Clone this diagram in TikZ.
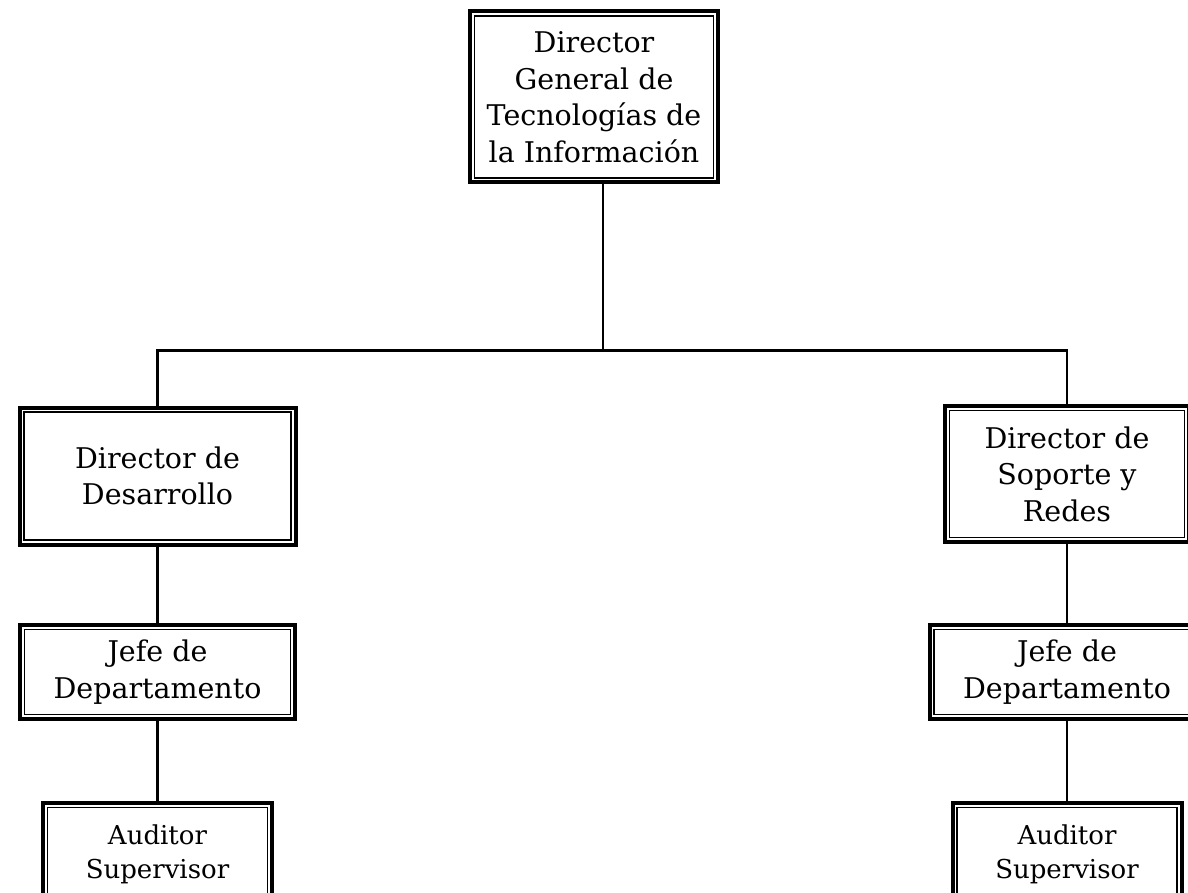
\documentclass[tikz,border=0pt]{standalone}
\usepackage{fontspec}
\setmainfont{DejaVu Serif}
\usepackage{tikz}
\usetikzlibrary{positioning}
\tikzset{%
  every cargo/.style={
    rectangle,
    draw,
    line width=4pt,
    inner sep=0pt,
    align=center,
    font=\fontsize{28.5}{36.5}\selectfont,
    path picture={
      \draw[line width=1.3pt]
        ([shift={(4.4pt,-4.4pt)}]path picture bounding box.north west) rectangle
        ([shift={(-4.4pt,4.4pt)}]path picture bounding box.south east);
    }
  },
  cargo auditor/.style={
    font=\fontsize{26}{34}\selectfont
  },
  conector/.style={
    line width=2.5pt
  },
}
\begin{document}
\begin{tikzpicture}[x=1pt, y=-1pt]

\useasboundingbox (0,0) rectangle (1188,893);

% Direccion general
\node [every cargo/.try, minimum width=248pt, minimum height=171pt] (general) at (594,97)
  {Director\\ General de\\ Tecnologías de\\ la Información};
\coordinate (hub) at (603,350.5);

% Direcciones de area
\node [every cargo/.try, minimum width=276pt, minimum height=137pt] (dir-Des) at (157.5,476)
  {Director de\\ Desarrollo};
\node [every cargo/.try, minimum width=244pt, minimum height=136pt] (dir-Sop) at (1067,474)
  {Director de\\ Soporte y\\ Redes};

% Jefes y auditores
\foreach \c/\x in {Des/157.5, Sop/1067}
{
  \node [every cargo/.try, minimum width=275pt, minimum height=94pt] (jefe-\c) at (\x,672)
    {Jefe de\\ Departamento};
  \node [every cargo/.try, cargo auditor/.try, minimum width=229pt, minimum height=102pt] (aud-\c) at (\x,854)
    {Auditor\\ Supervisor};
}

% LINEAS
\draw [conector] (general.south -| hub) -- (hub);
\draw [conector] (dir-Des.north) |- (hub) -| (dir-Sop.north);

\foreach \c in {Des, Sop}
{
  \draw [conector] (dir-\c.south) -- (jefe-\c.north);
  \draw [conector] (jefe-\c.south) -- (aud-\c.north);
}

\end{tikzpicture}
\end{document}
